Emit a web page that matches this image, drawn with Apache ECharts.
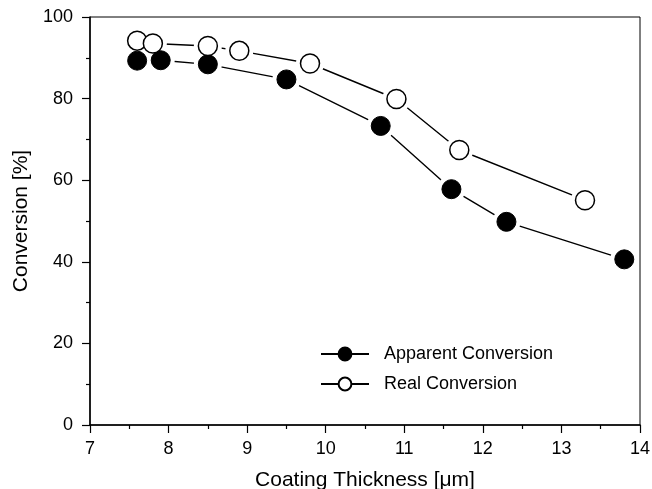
<!DOCTYPE html>
<html>
<head>
<meta charset="utf-8">
<script src="https://cdn.jsdelivr.net/npm/echarts@6/dist/echarts.min.js"></script>
<style>html,body{margin:0;padding:0;background:#fff;overflow:hidden}#c{width:652px;height:489px}</style>
</head>
<body>
<div id="c"></div>
<script>
var apparentX = [7.6, 7.9, 8.5, 9.5, 10.7, 11.6, 12.3, 13.8];
var apparentY = [89.3, 89.4, 88.4, 84.7, 73.3, 57.8, 49.8, 40.6];
var realX = [7.6, 7.8, 8.5, 8.9, 9.8, 10.9, 11.7, 13.3];
var realY = [94.2, 93.5, 92.9, 91.7, 88.6, 79.9, 67.4, 55.1];
var xTicks = [7, 8, 9, 10, 11, 12, 13, 14];
var yTicks = [0, 20, 40, 60, 80, 100];

function pairs(xs, ys) { return xs.map(function (x, i) { return [x, ys[i]]; }); }
var appData = pairs(apparentX, apparentY);
var realData = pairs(realX, realY);
var font = '"Liberation Sans", Arial, sans-serif';

var chart = echarts.init(document.getElementById('c'), null, {renderer: 'canvas'});
chart.setOption({
  animation: false,
  backgroundColor: '#fff',
  grid: {left: 90, right: 12, top: 17, bottom: 64, containLabel: false, outerBoundsMode: 'none',
         show: true, borderColor: '#000', borderWidth: 1, backgroundColor: 'transparent'},
  legend: {
    data: ['Apparent Conversion', 'Real Conversion'],
    orient: 'vertical', left: 320, top: 345, padding: 0,
    itemWidth: 48, itemHeight: 16, itemGap: 12,
    textStyle: {fontFamily: font, fontSize: 18, color: '#000', padding: [0, 0, 0, 10]}
  },
  xAxis: {
    type: 'value', min: xTicks[0], max: xTicks[xTicks.length - 1], interval: 1,
    name: 'Coating Thickness [μm]', nameLocation: 'middle', nameGap: 45,
    nameTextStyle: {fontFamily: font, fontSize: 21, color: '#000'},
    axisLine: {show: true, lineStyle: {color: '#000', width: 1.5}},
    axisTick: {show: true, length: 8, lineStyle: {color: '#000', width: 1.2}},
    minorTick: {show: true, splitNumber: 2, length: 4, lineStyle: {color: '#000', width: 1.2}},
    axisLabel: {fontFamily: font, fontSize: 18, color: '#000', margin: 15},
    splitLine: {show: false}
  },
  yAxis: {
    type: 'value', min: yTicks[0], max: yTicks[yTicks.length - 1], interval: 20,
    name: 'Conversion [%]', nameLocation: 'middle', nameGap: 55,
    nameTextStyle: {fontFamily: font, fontSize: 21, color: '#000'},
    axisLine: {show: true, lineStyle: {color: '#000', width: 1.5}},
    axisTick: {show: true, length: 8, lineStyle: {color: '#000', width: 1.2}},
    minorTick: {show: true, splitNumber: 2, length: 4, lineStyle: {color: '#000', width: 1.2}},
    axisLabel: {fontFamily: font, fontSize: 18, color: '#000', margin: 17},
    splitLine: {show: false}
  },
  series: [
    {name: 'Apparent Conversion', type: 'line', data: appData, z: 1,
     symbol: 'circle', symbolSize: 19, showSymbol: true,
     lineStyle: {color: '#000', width: 1.4},
     itemStyle: {color: '#000', borderColor: '#000', borderWidth: 1, opacity: 1}},
    {name: 'Real Conversion', type: 'line', data: realData, z: 1,
     symbol: 'circle', symbolSize: 19, showSymbol: true,
     lineStyle: {color: '#000', width: 1.4},
     itemStyle: {color: '#fff', borderColor: '#000', borderWidth: 1.5, opacity: 1}},
    {name: 'haloA', type: 'scatter', data: appData, z: 3, symbol: 'circle', symbolSize: 28,
     itemStyle: {color: '#fff', opacity: 1}, silent: true},
    {name: 'haloR', type: 'scatter', data: realData, z: 3, symbol: 'circle', symbolSize: 28,
     itemStyle: {color: '#fff', opacity: 1}, silent: true},
    {name: 'markA', type: 'scatter', data: appData, z: 4, symbol: 'circle', symbolSize: 19,
     itemStyle: {color: '#000', borderColor: '#000', borderWidth: 1, opacity: 1}, silent: true},
    {name: 'markR', type: 'scatter', data: realData, z: 4, symbol: 'circle', symbolSize: 19,
     itemStyle: {color: '#fff', borderColor: '#000', borderWidth: 1.5, opacity: 1}, silent: true}
  ]
});
</script>
</body>
</html>
